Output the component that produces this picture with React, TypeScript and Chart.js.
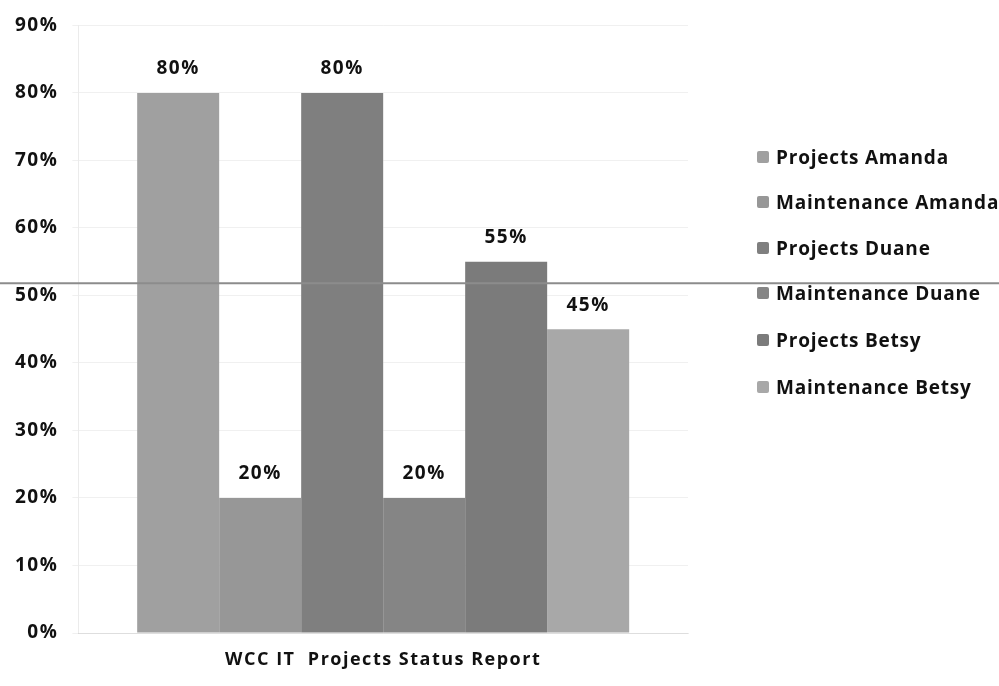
import React, { useEffect, useRef } from "react";
import { Chart, registerables } from "chart.js";

Chart.register(...registerables);

const categories = ["WCC IT  Projects Status Report"];
const seriesNames = [
  "Projects Amanda",
  "Maintenance Amanda",
  "Projects Duane",
  "Maintenance Duane",
  "Projects Betsy",
  "Maintenance Betsy",
];
const seriesValues = [80, 20, 80, 20, 55, 45];
const seriesColors = ["#a0a0a0", "#979797", "#7f7f7f", "#858585", "#7b7b7b", "#a8a8a8"];
const yTickValues = [0, 10, 20, 30, 40, 50, 60, 70, 80, 90];
const referenceLineValue = [51.8];

const FONT = "'Open Sans', 'DejaVu Sans', sans-serif";

export default function App() {
  const canvasRef = useRef<HTMLCanvasElement | null>(null);

  useEffect(() => {
    document.body.style.margin = "0";
    const canvas = canvasRef.current;
    if (!canvas) return;

    const spacingPlugin = {
      id: "spacing",
      beforeLayout(chart: any) {
        chart.ctx.letterSpacing = "1.5px";
      },
      beforeDraw(chart: any) {
        chart.ctx.letterSpacing = "1.5px";
      },
    };

    const labelPlugin = {
      id: "barLabels",
      afterDatasetsDraw(chart: any) {
        const ctx = chart.ctx;
        ctx.save();
        ctx.letterSpacing = "1.5px";
        ctx.font = `bold 19px ${FONT}`;
        ctx.fillStyle = "#111";
        ctx.textAlign = "center";
        ctx.textBaseline = "middle";
        chart.data.datasets.forEach((ds: any, i: number) => {
          const meta = chart.getDatasetMeta(i);
          meta.data.forEach((el: any, j: number) => {
            ctx.fillText(`${ds.data[j]}%`, el.x, el.y - 24);
          });
        });
        ctx.restore();
      },
    };

    const refLinePlugin = {
      id: "refLine",
      afterDraw(chart: any) {
        const ctx = chart.ctx;
        const y = chart.scales.y.getPixelForValue(referenceLineValue[0]);
        ctx.save();
        ctx.strokeStyle = "#8c8c8c";
        ctx.lineWidth = 2;
        ctx.beginPath();
        ctx.moveTo(0, y);
        ctx.lineTo(chart.width, y);
        ctx.stroke();
        ctx.restore();
      },
    };

    const chart = new Chart(canvas, {
      type: "bar",
      data: {
        labels: categories,
        datasets: seriesNames.map((name, i) => ({
          label: name,
          data: [seriesValues[i]],
          backgroundColor: seriesColors[i],
          borderWidth: 0,
          categoryPercentage: 0.807,
          barPercentage: 1.0,
        })),
      },
      options: {
        animation: false,
        responsive: false,
        maintainAspectRatio: false,
        layout: { padding: { left: 1, right: 311, top: 25, bottom: 12 } },
        plugins: {
          legend: { display: false },
          tooltip: { enabled: false },
          title: { display: false },
        },
        scales: {
          x: {
            grid: { display: false, drawTicks: false },
            border: { display: true, color: "rgba(0,0,0,0.08)" },
            afterFit(scale: any) {
              scale.height = 41;
            },
            ticks: {
              color: "#111",
              padding: 16,
              font: { family: FONT, size: 18, weight: "bold" },
            },
          },
          y: {
            min: 0,
            max: 90,
            afterBuildTicks(scale: any) {
              scale.ticks = yTickValues.map((v) => ({ value: v }));
            },
            grid: { color: "rgba(0,0,0,0.06)", tickLength: 6 },
            border: { display: true, color: "rgba(0,0,0,0.08)" },
            ticks: {
              color: "#111",
              padding: 14,
              font: { family: FONT, size: 19, weight: "bold" },
              callback: (v: any) => `${v}%`,
            },
          },
        },
      },
      plugins: [spacingPlugin, labelPlugin, refLinePlugin],
    });

    return () => chart.destroy();
  }, []);

  const legendTop = [157, 202, 248, 293, 340, 387];

  return (
    <div style={{ position: "relative", width: 999, height: 686, background: "#fff" }}>
      <canvas ref={canvasRef} width={999} height={686} style={{ display: "block" }} />
      {seriesNames.map((name, i) => (
        <div
          key={name}
          style={{
            position: "absolute",
            left: 757,
            top: legendTop[i] - 14,
            height: 28,
            display: "flex",
            alignItems: "center",
            fontFamily: FONT,
            fontWeight: 700,
            fontSize: 19,
            letterSpacing: "0.8px",
            color: "#111",
            whiteSpace: "nowrap",
          }}
        >
          <span
            style={{
              display: "inline-block",
              width: 12,
              height: 12,
              borderRadius: 2,
              background: seriesColors[i],
              marginRight: 7,
            }}
          />
          {name}
        </div>
      ))}
    </div>
  );
}
